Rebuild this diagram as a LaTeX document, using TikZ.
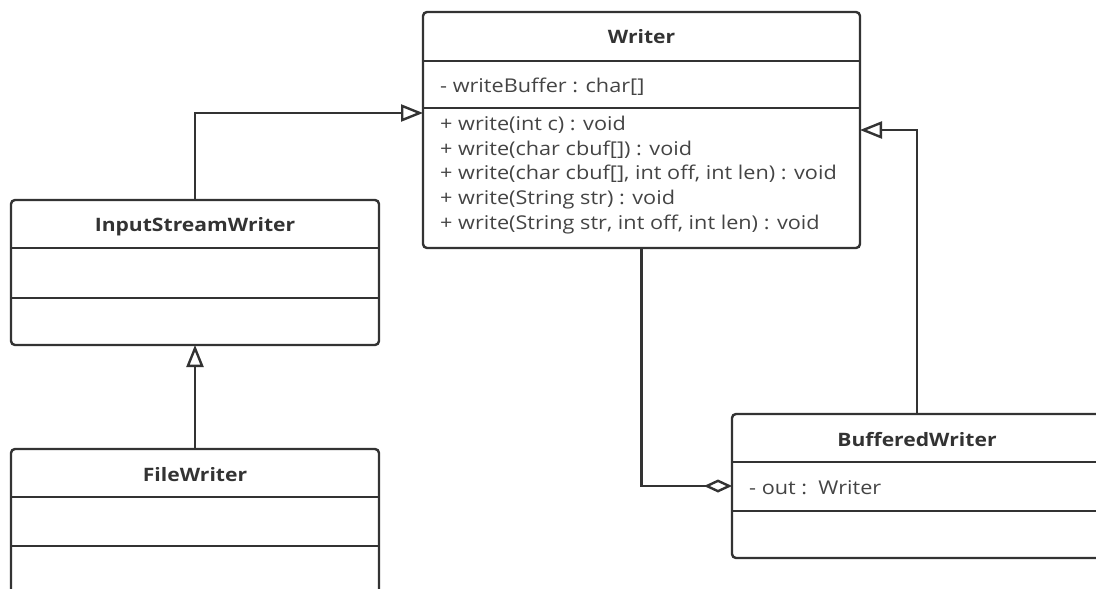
\documentclass[tikz,border=0pt]{standalone}
\usepackage{fontspec}
\setmainfont{Open Sans}[FakeStretch=1.14]
\usetikzlibrary{arrows.meta}
\definecolor{umlline}{RGB}{51,51,51}
\definecolor{umltext}{RGB}{68,68,68}

\begin{document}
\begin{tikzpicture}[
  x=1pt, y=-1pt,
  every node/.style={font=\fontsize{19}{24.8}\selectfont, text=umltext},
  classbox/.style={rectangle, draw=umlline, line width=2.4pt, rounded corners=4pt, anchor=north west, inner sep=0pt, outer sep=0pt},
  classname/.style={font=\fontsize{18.5}{22}\selectfont\bfseries, text=umlline},
  members/.style={align=left, anchor=west, inner sep=0pt},
  sep/.style={draw=umlline, line width=2.4pt},
  inherit/.style={-{Triangle[open, length=22pt, width=17pt]}, draw=umlline, line width=2.4pt},
  aggregate/.style={-{Diamond[open, length=28pt, width=13pt]}, draw=umlline, line width=2.4pt}
]
\clip (0,0) rectangle (1096,589);

% Class boxes
\node[classbox, minimum width=437pt, minimum height=236pt] (writer) at (423,12) {};
\node[classbox, minimum width=368pt, minimum height=145pt] (isw) at (11,200) {};
\node[classbox, minimum width=368pt, minimum height=145pt] (fw) at (11,449) {};
\node[classbox, minimum width=370pt, minimum height=144pt] (bw) at (732,414) {};

% Compartment lines
\draw[sep] ([yshift=-49pt]writer.north west) -- ([yshift=-49pt]writer.north east);
\draw[sep] ([yshift=-96pt]writer.north west) -- ([yshift=-96pt]writer.north east);
\draw[sep] ([yshift=-48pt]isw.north west) -- ([yshift=-48pt]isw.north east);
\draw[sep] ([yshift=-98pt]isw.north west) -- ([yshift=-98pt]isw.north east);
\draw[sep] ([yshift=-48pt]fw.north west) -- ([yshift=-48pt]fw.north east);
\draw[sep] ([yshift=-97pt]fw.north west) -- ([yshift=-97pt]fw.north east);
\draw[sep] ([yshift=-48pt]bw.north west) -- ([yshift=-48pt]bw.north east);
\draw[sep] ([yshift=-97pt]bw.north west) -- ([yshift=-97pt]bw.north east);

% Class names
\node[classname] (writername) at ([yshift=-25pt]writer.north) {Writer};
\node[classname] (iswname) at ([yshift=-27pt]isw.north) {InputStreamWriter};
\node[classname] (fwname) at ([yshift=-26pt]fw.north) {FileWriter};
\node[classname] (bwname) at ([yshift=-26pt]bw.north) {BufferedWriter};

% Members
\node[members] (writerattr) at ([xshift=17pt, yshift=-75pt]writer.north west) {- writeBuffer : char[]};
\node[members] (writerops) at ([xshift=17pt, yshift=-163pt]writer.north west)
  {+ write(int c) : void\\
   + write(char cbuf[]) : void\\
   + write(char cbuf[], int off, int len) : void\\
   + write(String str) : void\\
   + write(String str, int off, int len) : void};
\node[members] (bwattr) at ([xshift=17pt, yshift=-74pt]bw.north west) {- out :\ \ Writer};

% Relations
\draw[inherit] (isw.north) |- ([yshift=17pt]writer.west);
\draw[inherit] (fw.north) -- (isw.south);
\draw[inherit] (bw.north) |- (writer.east);
\draw[aggregate] (writer.south) |- (bw.west);

\end{tikzpicture}
\end{document}
